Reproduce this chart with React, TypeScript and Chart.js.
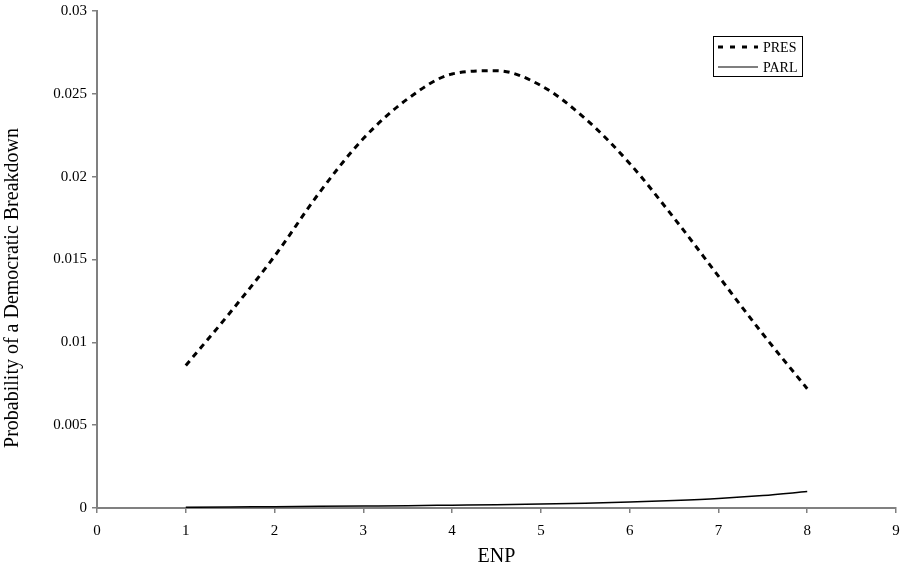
import React, { useEffect, useRef } from "react";
import { Chart, registerables } from "chart.js";

Chart.register(...registerables);

const enp = [1, 1.5, 2, 2.5, 3, 3.5, 4, 4.5, 5, 5.5, 6, 6.5, 7, 7.5, 8];
const pres = [0.0086, 0.0118, 0.0152, 0.019, 0.0223, 0.0247, 0.0262, 0.0264, 0.0255, 0.0235, 0.0208, 0.0175, 0.014, 0.0105, 0.0072];
const parl = [0.00004, 0.00006, 0.00008, 0.0001, 0.00012, 0.00014, 0.00017, 0.0002, 0.00024, 0.00029, 0.00036, 0.00045, 0.00057, 0.00075, 0.00099];
const seriesNames = ["PRES", "PARL"];
const xTitle = "ENP";
const yTitle = "Probability of a Democratic Breakdown";

const SERIF = "'Liberation Serif', 'DejaVu Serif', serif";

const overlay = {
  id: "overlay",
  afterDraw(chart: any) {
    const { ctx, chartArea } = chart;
    ctx.save();
    ctx.fillStyle = "#000";
    ctx.font = `20px ${SERIF}`;
    ctx.textAlign = "center";
    ctx.textBaseline = "middle";
    ctx.fillText(xTitle, (chartArea.left + chartArea.right) / 2, 557);
    ctx.save();
    ctx.translate(13, 288);
    ctx.rotate(-Math.PI / 2);
    ctx.fillText(yTitle, 0, 0);
    ctx.restore();
    // legend
    const bx = chartArea.right - 183;
    const by = chartArea.top + 25;
    const bw = 89;
    const bh = 40;
    ctx.strokeStyle = "#000";
    ctx.lineWidth = 1;
    ctx.strokeRect(bx + 0.5, by + 0.5, bw, bh);
    const rows = [
      { y: by + 11, dash: [5, 7], width: 3 },
      { y: by + 31, dash: [], width: 1.2 },
    ];
    ctx.font = `14px ${SERIF}`;
    ctx.textAlign = "left";
    rows.forEach((r, i) => {
      ctx.beginPath();
      ctx.setLineDash(r.dash);
      ctx.lineWidth = r.width;
      ctx.moveTo(bx + 5, r.y);
      ctx.lineTo(bx + 45, r.y);
      ctx.stroke();
      ctx.setLineDash([]);
      ctx.fillText(seriesNames[i], bx + 50, r.y + 1);
    });
    ctx.restore();
  },
};

export default function App() {
  const ref = useRef<HTMLCanvasElement>(null);
  useEffect(() => {
    document.body.style.margin = "0";
    const chart = new Chart(ref.current!, {
      type: "line",
      data: {
        datasets: [
          {
            label: seriesNames[0],
            data: enp.map((x, i) => ({ x, y: pres[i] })),
            borderColor: "#000",
            borderWidth: 3,
            borderDash: [6, 5],
            pointRadius: 0,
            cubicInterpolationMode: "monotone",
            fill: false,
          },
          {
            label: seriesNames[1],
            data: enp.map((x, i) => ({ x, y: parl[i] })),
            borderColor: "#000",
            borderWidth: 1.5,
            pointRadius: 0,
            cubicInterpolationMode: "monotone",
            fill: false,
          },
        ],
      },
      options: {
        animation: false,
        responsive: false,
        layout: { padding: { top: 11, right: 10, left: 0, bottom: 0 } },
        plugins: { legend: { display: false }, tooltip: { enabled: false } },
        scales: {
          x: {
            type: "linear",
            min: 0,
            max: 9,
            ticks: { stepSize: 1, color: "#000", font: { family: SERIF, size: 15 }, padding: 9, maxRotation: 0 },
            grid: { drawOnChartArea: false, drawTicks: true, tickLength: 5, color: "#808080", lineWidth: 1.5 },
            border: { display: true, color: "#808080", width: 2 },
            afterFit: (s: any) => { s.height = 77; s.paddingRight = 0; s.paddingLeft = 0; },
          },
          y: {
            type: "linear",
            min: 0,
            max: 0.03,
            ticks: {
              stepSize: 0.005,
              color: "#000",
              font: { family: SERIF, size: 15 },
              padding: 5,
              callback: (v: any) => String(Number(v.toFixed(3))),
            },
            grid: { drawOnChartArea: false, drawTicks: true, tickLength: 5, color: "#808080", lineWidth: 1.5 },
            border: { display: true, color: "#808080", width: 2 },
            afterFit: (s: any) => { s.width = 97; s.paddingTop = 0; s.paddingBottom = 0; },
          },
        },
      },
      plugins: [overlay],
    });
    return () => chart.destroy();
  }, []);
  return <canvas ref={ref} width={906} height={585} style={{ display: "block" }} />;
}
